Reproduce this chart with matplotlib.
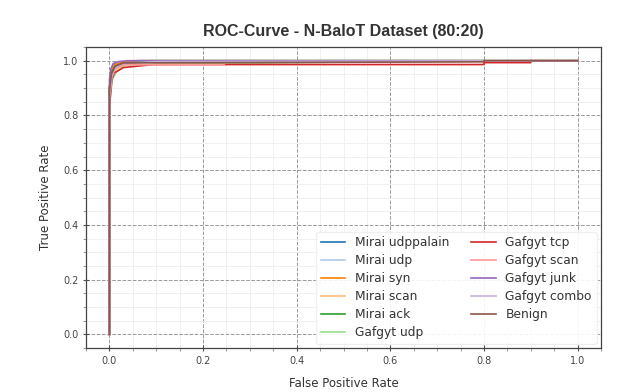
import matplotlib
matplotlib.use("Agg")
import matplotlib.pyplot as plt

labels = ["Mirai udppalain", "Mirai udp", "Mirai syn", "Mirai scan", "Mirai ack",
          "Gafgyt udp", "Gafgyt tcp", "Gafgyt scan", "Gafgyt junk", "Gafgyt combo", "Benign"]
colors = ["#1f77b4", "#aec7e8", "#ff7f0e", "#ffbb78", "#2ca02c",
          "#98df8a", "#d62728", "#ff9896", "#9467bd", "#c5b0d5", "#8c564b"]

fpr_mirai_udppalain = [0.0, 0.0, 0.004, 0.01, 0.03, 0.06, 1.0]
tpr_mirai_udppalain = [0.0, 0.90, 0.96, 0.985, 0.995, 1.0, 1.0]
fpr_mirai_udp = [0.0, 0.0, 0.005, 0.012, 0.03, 0.07, 1.0]
tpr_mirai_udp = [0.0, 0.88, 0.95, 0.975, 0.99, 1.0, 1.0]
fpr_mirai_syn = [0.0, 0.0, 0.004, 0.01, 0.025, 0.05, 1.0]
tpr_mirai_syn = [0.0, 0.90, 0.96, 0.985, 0.993, 1.0, 1.0]
fpr_mirai_scan = [0.0, 0.0, 0.006, 0.015, 0.035, 0.08, 1.0]
tpr_mirai_scan = [0.0, 0.86, 0.94, 0.97, 0.985, 1.0, 1.0]
fpr_mirai_ack = [0.0, 0.0, 0.004, 0.012, 0.03, 0.09, 1.0]
tpr_mirai_ack = [0.0, 0.90, 0.955, 0.98, 0.99, 1.0, 1.0]
fpr_gafgyt_udp = [0.0, 0.0, 0.006, 0.015, 0.035, 0.5, 1.0]
tpr_gafgyt_udp = [0.0, 0.84, 0.93, 0.96, 0.985, 0.995, 1.0]
fpr_gafgyt_tcp = [0.0, 0.0, 0.005, 0.01, 0.02, 0.03, 0.094, 0.8, 0.8, 0.9, 0.9, 1.0]
tpr_gafgyt_tcp = [0.0, 0.83, 0.93, 0.955, 0.965, 0.975, 0.986, 0.986, 0.993, 0.993, 1.0, 1.0]
fpr_gafgyt_scan = [0.0, 0.0, 0.005, 0.012, 0.03, 0.245, 0.245, 1.0]
tpr_gafgyt_scan = [0.0, 0.86, 0.94, 0.97, 0.985, 0.985, 0.995, 1.0]
fpr_gafgyt_junk = [0.0, 0.0, 0.003, 0.008, 0.02, 0.04, 1.0]
tpr_gafgyt_junk = [0.0, 0.93, 0.97, 0.99, 0.997, 1.0, 1.0]
fpr_gafgyt_combo = [0.0, 0.0, 0.005, 0.012, 0.03, 0.1, 1.0]
tpr_gafgyt_combo = [0.0, 0.87, 0.945, 0.975, 0.99, 0.997, 1.0]
fpr_benign = [0.0, 0.0, 0.004, 0.012, 0.03, 0.8, 0.8, 1.0]
tpr_benign = [0.0, 0.89, 0.95, 0.98, 0.992, 0.996, 1.0, 1.0]

curves = [
    (fpr_mirai_udppalain, tpr_mirai_udppalain),
    (fpr_mirai_udp, tpr_mirai_udp),
    (fpr_mirai_syn, tpr_mirai_syn),
    (fpr_mirai_scan, tpr_mirai_scan),
    (fpr_mirai_ack, tpr_mirai_ack),
    (fpr_gafgyt_udp, tpr_gafgyt_udp),
    (fpr_gafgyt_tcp, tpr_gafgyt_tcp),
    (fpr_gafgyt_scan, tpr_gafgyt_scan),
    (fpr_gafgyt_junk, tpr_gafgyt_junk),
    (fpr_gafgyt_combo, tpr_gafgyt_combo),
    (fpr_benign, tpr_benign),
]

fig = plt.figure(figsize=(6.28, 3.92), dpi=100)
ax = fig.add_axes([0.137, 0.112, 0.820, 0.768])

for (x, y), lab, c in zip(curves, labels, colors):
    ax.plot(x, y, color=c, lw=1.2, label=lab)

ax.set_xlim(-0.05, 1.05)
ax.set_ylim(-0.05, 1.05)
ax.set_xticks([0.0, 0.2, 0.4, 0.6, 0.8, 1.0])
ax.set_yticks([0.0, 0.2, 0.4, 0.6, 0.8, 1.0])
ax.minorticks_on()
ax.grid(which="major", color="#999999", linestyle="--", lw=0.7)
ax.grid(which="minor", color="#eeeeee", linestyle="-", lw=0.6)
ax.tick_params(which="major", labelsize=7, color="#555555", labelcolor="#444444", length=4, direction="inout")
ax.tick_params(which="minor", color="#888888", length=2)
for s in ax.spines.values():
    s.set_color("#444444")
    s.set_linewidth(0.9)

ax.set_xlabel("False Positive Rate", fontsize=8.5, color="#333333", labelpad=8)
ax.set_ylabel("True Positive Rate", fontsize=8.5, color="#333333", labelpad=8)
ax.set_title("ROC-Curve - N-BaloT Dataset (80:20)", fontsize=11.5, fontweight="bold",
             family="Liberation Sans", color="#333333", pad=8)

leg = ax.legend(loc="lower right", ncol=2, fontsize=8.8, frameon=True, framealpha=0.9,
                edgecolor="#eeeeee", handlelength=2.0, handletextpad=0.8,
                columnspacing=1.8, labelspacing=0.4, borderaxespad=0.35)
for t in leg.get_texts():
    t.set_color("#333333")

fig.savefig("out.png", dpi=100)
